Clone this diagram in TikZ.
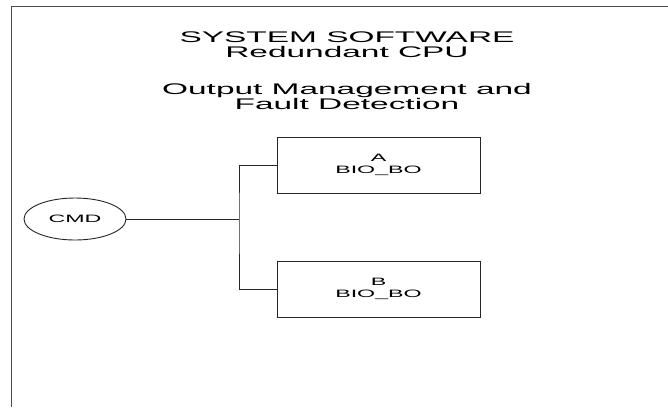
\documentclass[tikz,border=0pt]{standalone}
\usepackage{fontspec}
\newfontfamily\diagfont[FakeStretch=2.17]{Liberation Sans}
\usetikzlibrary{positioning}
\usetikzlibrary{shapes.geometric}

\begin{document}
\begin{tikzpicture}[x=1pt,y=-1pt,node distance=124pt,line width=0.9pt,draw=black!85]
  \tikzstyle{frame}=[line width=1.3pt,draw=black!70]
  \tikzstyle{heading}=[align=center,inner sep=0pt,font=\diagfont\fontsize{15.4}{15}\selectfont]
  \tikzstyle{block}=[draw=black!85,rectangle,minimum width=203pt,minimum height=56pt,align=center,font=\diagfont\fontsize{10.7}{11.7}\selectfont]
  \tikzstyle{signal}=[draw=black!85,ellipse,minimum width=102pt,minimum height=42pt,inner sep=0pt,font=\diagfont\fontsize{10.7}{11.7}\selectfont]

  \useasboundingbox (0,0) rectangle (668,407);
  \draw[frame] (11.7,407) |- (668,6.5);

  \node[heading,anchor=base] (title)    at (347,57.7)  {SYSTEM SOFTWARE\\Redundant CPU};
  \node[heading,anchor=base] (subtitle) at (347,109.3) {Output Management and\\Fault Detection};

  \node[block]  (A)   at (378.5,165) {A\\BIO\_BO};
  \node[block]  (B)   [below of=A]   {B\\BIO\_BO};
  \node[signal] (CMD) at (75,219)    {CMD};
  \coordinate (split) at (239,219);

  \draw (CMD) -- (split);
  \draw (A) -| (split) |- (B);
\end{tikzpicture}
\end{document}
